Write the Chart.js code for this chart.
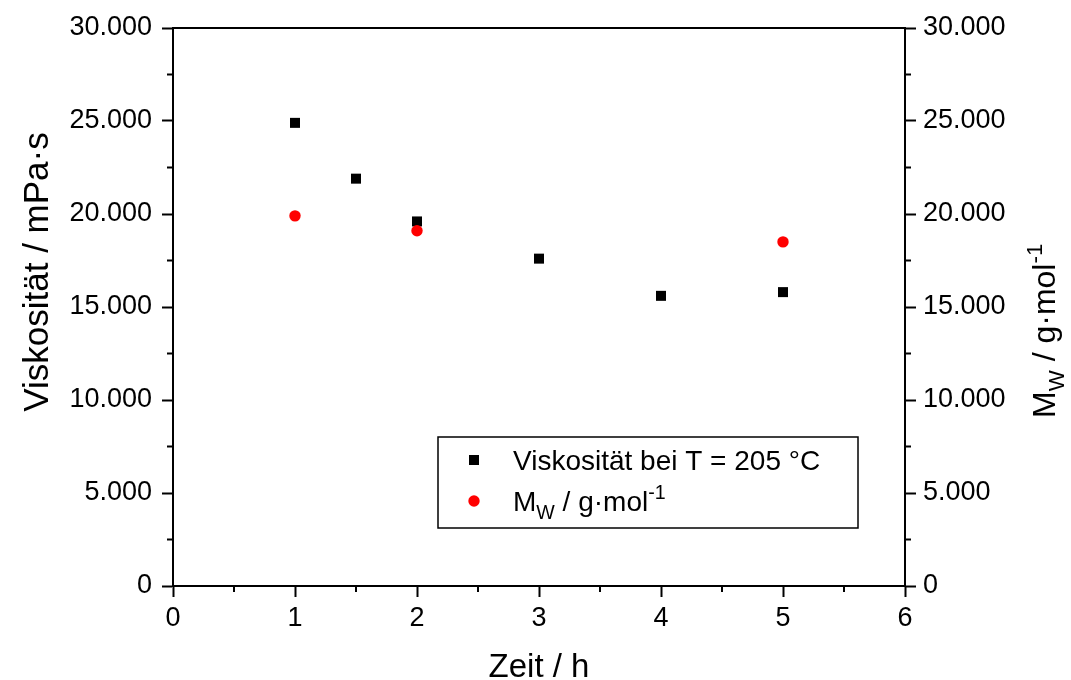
<!DOCTYPE html>
<html>
<head>
<meta charset="utf-8">
<script src="https://cdn.jsdelivr.net/npm/chart.js@4.4.0/dist/chart.umd.min.js"></script>
<style>
  html, body { margin: 0; padding: 0; background: #fff; }
  #wrap { width: 1071px; height: 680px; }
</style>
</head>
<body>
<div id="wrap"><canvas id="chart" width="1071" height="680"></canvas></div>
<script>
// measurement data
const zeitViskositaet = [1, 1.5, 2, 3, 4, 5];
const viskositaet = [24900, 21900, 19600, 17600, 15600, 15800];
const zeitMw = [1, 2, 5];
const molmasse = [19900, 19100, 18500];

// axis ticks
const xTicks = [0, 1, 2, 3, 4, 5, 6];
const xMinorTicks = [0.5, 1.5, 2.5, 3.5, 4.5, 5.5];
const yTicks = [0, 5000, 10000, 15000, 20000, 25000, 30000];
const yMinorTicks = [2500, 7500, 12500, 17500, 22500, 27500];

const fontFamily = "'Liberation Sans', Arial, sans-serif";

function formatThousands(v) {
    if (v === 0) return "0";
    const s = String(v);
    return s.slice(0, -3) + "." + s.slice(-3);
}

// draw text made of normal / subscript / superscript pieces, left to right
function drawRichText(ctx, parts, x, y, size) {
    parts.forEach((p) => {
        let fs = size;
        let dy = 0;
        if (p.sub) { fs = size * 0.7; dy = size * 0.28; }
        if (p.sup) { fs = size * 0.7; dy = -size * 0.42; }
        ctx.font = fs + "px " + fontFamily;
        ctx.fillText(p.t, x, y + dy);
        x += ctx.measureText(p.t).width;
    });
    return x;
}

const mwLabel = [{ t: "M" }, { t: "W", sub: true }, { t: " / g·mol" }, { t: "-1", sup: true }];

// top frame line and minor ticks
const framePlugin = {
    id: "frame",
    afterDraw(chart) {
        const ctx = chart.ctx;
        const area = chart.chartArea;
        const x = chart.scales.x;
        const y = chart.scales.y;
        ctx.save();
        ctx.strokeStyle = "#000";
        ctx.lineWidth = 2;
        ctx.beginPath();
        ctx.moveTo(area.left, area.top);
        ctx.lineTo(area.right, area.top);
        xMinorTicks.forEach((v) => {
            const px = x.getPixelForValue(v);
            ctx.moveTo(px, area.bottom);
            ctx.lineTo(px, area.bottom + 6);
        });
        yMinorTicks.forEach((v) => {
            const py = y.getPixelForValue(v);
            ctx.moveTo(area.left - 6, py);
            ctx.lineTo(area.left, py);
            ctx.moveTo(area.right, py);
            ctx.lineTo(area.right + 6, py);
        });
        ctx.stroke();
        ctx.restore();
    },
};

// axis titles
const titlePlugin = {
    id: "titles",
    afterDraw(chart) {
        const ctx = chart.ctx;
        const area = chart.chartArea;
        ctx.save();
        ctx.fillStyle = "#000";

        ctx.font = "33px " + fontFamily;
        ctx.textAlign = "center";
        ctx.textBaseline = "alphabetic";
        ctx.fillText("Zeit / h", (area.left + area.right) / 2, 677);

        ctx.save();
        ctx.font = "35px " + fontFamily;
        ctx.translate(48, 272);
        ctx.rotate(-Math.PI / 2);
        ctx.fillText("Viskosität / mPa·s", 0, 0);
        ctx.restore();

        ctx.save();
        ctx.translate(1055, 418);
        ctx.rotate(-Math.PI / 2);
        ctx.textAlign = "left";
        drawRichText(ctx, mwLabel, 0, 0, 32);
        ctx.restore();

        ctx.restore();
    },
};

// legend box with both series
const legendPlugin = {
    id: "legendBox",
    afterDraw(chart) {
        const ctx = chart.ctx;
        ctx.save();
        ctx.strokeStyle = "#000";
        ctx.lineWidth = 1.5;
        ctx.strokeRect(438, 437, 420, 91);

        ctx.fillStyle = "#000";
        ctx.fillRect(469, 455, 10, 10);
        ctx.fillStyle = "#ff0000";
        ctx.beginPath();
        ctx.arc(474, 501, 5.7, 0, Math.PI * 2);
        ctx.fill();

        ctx.fillStyle = "#000";
        ctx.textAlign = "left";
        ctx.textBaseline = "alphabetic";
        ctx.font = "28px " + fontFamily;
        ctx.fillText("Viskosität bei T = 205 °C", 513, 470);
        drawRichText(ctx, mwLabel, 513, 511, 28);
        ctx.restore();
    },
};

function axisGrid() {
    return {
        display: true,
        drawOnChartArea: false,
        drawTicks: true,
        tickLength: 11,
        tickWidth: 2,
        tickColor: "#000",
    };
}

const ctx = document.getElementById("chart").getContext("2d");
const chart = new Chart(ctx, {
    type: "scatter",
    data: {
        datasets: [
            {
                label: "Mw / g·mol-1",
                data: zeitMw.map((t, i) => ({ x: t, y: molmasse[i] })),
                yAxisID: "y2",
                pointStyle: "circle",
                pointRadius: 5.7,
                borderWidth: 0,
                backgroundColor: "#ff0000",
                borderColor: "#ff0000",
            },
            {
                label: "Viskosität bei T = 205 °C",
                data: zeitViskositaet.map((t, i) => ({ x: t, y: viskositaet[i] })),
                yAxisID: "y",
                pointStyle: "rect",
                pointRadius: 7.07,
                borderWidth: 0,
                backgroundColor: "#000",
                borderColor: "#000",
            },
        ],
    },
    options: {
        responsive: false,
        animation: false,
        devicePixelRatio: 1,
        layout: { padding: { top: 28, right: 0, bottom: 0, left: 0 } },
        scales: {
            x: {
                type: "linear",
                position: "bottom",
                min: 0,
                max: 6,
                grid: axisGrid(),
                border: { display: true, color: "#000", width: 2 },
                ticks: {
                    color: "#000",
                    padding: 5,
                    font: { size: 27, family: fontFamily },
                    callback: (v) => String(v),
                },
                afterBuildTicks: (scale) => {
                    scale.ticks = xTicks.map((v) => ({ value: v }));
                },
                afterFit: (scale) => {
                    scale.height = 94;
                },
            },
            y: {
                type: "linear",
                position: "left",
                min: 0,
                max: 30000,
                grid: axisGrid(),
                border: { display: true, color: "#000", width: 2 },
                ticks: {
                    color: "#000",
                    padding: 10,
                    font: { size: 27, family: fontFamily },
                    callback: (v) => formatThousands(v),
                },
                afterBuildTicks: (scale) => {
                    scale.ticks = yTicks.map((v) => ({ value: v }));
                },
                afterFit: (scale) => {
                    scale.width = 173;
                },
            },
            y2: {
                type: "linear",
                position: "right",
                min: 0,
                max: 30000,
                grid: axisGrid(),
                border: { display: true, color: "#000", width: 2 },
                ticks: {
                    color: "#000",
                    padding: 7,
                    font: { size: 27, family: fontFamily },
                    callback: (v) => formatThousands(v),
                },
                afterBuildTicks: (scale) => {
                    scale.ticks = yTicks.map((v) => ({ value: v }));
                },
                afterFit: (scale) => {
                    scale.width = 166;
                },
            },
        },
        plugins: {
            legend: { display: false },
            tooltip: { enabled: false },
        },
    },
    plugins: [framePlugin, titlePlugin, legendPlugin],
});
</script>
</body>
</html>
